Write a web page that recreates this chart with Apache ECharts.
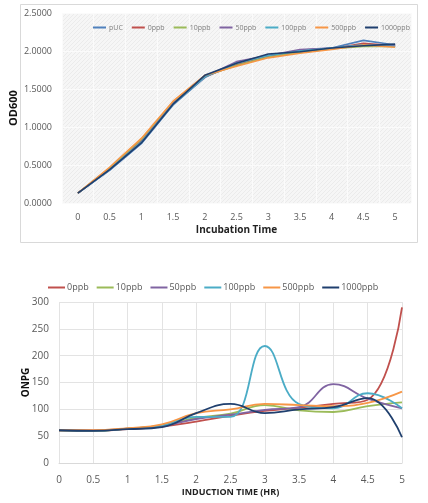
<!DOCTYPE html>
<html><head><meta charset="utf-8">
<script src="https://cdn.jsdelivr.net/npm/echarts@6/dist/echarts.min.js"></script>
<style>html,body{margin:0;padding:0;background:#fff}#c{width:428px;height:503px}</style>
</head><body><div id="c"></div>
<script>
// ---- Top chart data (OD600) ----
const topCategories = ['0','0.5','1','1.5','2','2.5','3','3.5','4','4.5','5'];
const topNames = ['pUC','0ppb','10ppb','50ppb','100ppb','500ppb','1000ppb'];
const od_pUC    = [0.13,0.43,0.78,1.29,1.65,1.85,1.93,2.01,2.04,2.14,2.08];
const od_0ppb   = [0.13,0.45,0.82,1.31,1.66,1.82,1.93,1.99,2.03,2.10,2.07];
const od_10ppb  = [0.13,0.46,0.84,1.33,1.67,1.81,1.92,1.98,2.03,2.06,2.06];
const od_50ppb  = [0.13,0.44,0.80,1.31,1.66,1.86,1.94,2.02,2.04,2.08,2.07];
const od_100ppb = [0.13,0.44,0.80,1.30,1.66,1.84,1.94,2.00,2.04,2.08,2.06];
const od_500ppb = [0.13,0.47,0.85,1.34,1.68,1.80,1.91,1.97,2.02,2.08,2.05];
const od_1000ppb= [0.13,0.44,0.79,1.30,1.68,1.84,1.96,1.99,2.04,2.07,2.09];
const topYTicks = [0,0.5,1,1.5,2,2.5];

// ---- Bottom chart data (ONPG) ----
const bottomTimes = [0,0.5,1,1.5,2,2.5,3,3.5,4,4.5,5];
const bottomNames = ['0ppb','10ppb','50ppb','100ppb','500ppb','1000ppb'];
const onpg_0ppb    = [61,60,63,68,77,88,97,103,110,118,290];
const onpg_10ppb   = [61,60,64,70,84,92,108,98,95,106,113];
const onpg_50ppb   = [61,61,64,69,82,90,99,104,147,120,102];
const onpg_100ppb  = [61,60,64,70,86,86,218,110,102,130,102];
const onpg_500ppb  = [61,61,65,72,93,100,110,108,106,112,133];
const onpg_1000ppb = [61,60,63,67,93,110,93,100,104,121,48];
const bottomYTicks = [0,50,100,150,200,250,300];

const topColors = ['#4F81BD','#C0504D','#9BBB59','#8064A2','#4BACC6','#F79646','#1F3F6E'];
const bottomColors = ['#C0504D','#9BBB59','#8064A2','#4BACC6','#F79646','#1F3F6E'];

// hatch pattern for top plot background
const pc = document.createElement('canvas'); pc.width = 4; pc.height = 4;
const px = pc.getContext('2d');
px.fillStyle = '#f6f6f6'; px.fillRect(0,0,4,4);
px.strokeStyle = '#ebebeb'; px.lineWidth = 1;
px.beginPath(); px.moveTo(0,4); px.lineTo(4,0); px.stroke();

const chart = echarts.init(document.getElementById('c'), null, {renderer:'canvas'});
const topData = [od_pUC,od_0ppb,od_10ppb,od_50ppb,od_100ppb,od_500ppb,od_1000ppb];
const botData = [onpg_0ppb,onpg_10ppb,onpg_50ppb,onpg_100ppb,onpg_500ppb,onpg_1000ppb];

const series = [];
topNames.forEach((n,i)=>series.push({
  name:n, type:'line', xAxisIndex:0, yAxisIndex:0, data:topData[i],
  showSymbol:false, symbol:'none', lineStyle:{width:1.6,color:topColors[i]}, itemStyle:{color:topColors[i]}
}));
bottomNames.forEach((n,i)=>series.push({
  name:n+' ', type:'line', xAxisIndex:1, yAxisIndex:1,
  data:bottomTimes.map((t,k)=>[t,botData[i][k]]), smooth:0.45,
  showSymbol:false, symbol:'none', lineStyle:{width:1.8,color:bottomColors[i]}, itemStyle:{color:bottomColors[i]}
}));

const lab = {color:'#595959', fontSize:9, fontFamily:'Open Sans'};
chart.setOption({
  animation:false,
  backgroundColor:'#fff',
  graphic:[{type:'rect', z:-10, shape:{x:20.5,y:4.5,width:397,height:238},
    style:{fill:'#fff', stroke:'#d9d9d9', lineWidth:1}}],
  legend:[
    {data:topNames, top:19, left:88, itemWidth:13, itemHeight:2, icon:'rect', itemGap:9,
     textStyle:{color:'#7f7f7f', fontSize:7, fontFamily:'Open Sans', padding:[0,0,0,-2]}},
    {data:bottomNames.map(n=>n+' '), top:278, left:43, itemWidth:17, itemHeight:2, icon:'rect', itemGap:8,
     formatter:n=>n.trim(),
     textStyle:{color:'#595959', fontSize:9, fontFamily:'Open Sans', padding:[0,0,0,-3]}}
  ],
  grid:[
    {left:61, right:17, top:13, height:190, show:true, borderWidth:0,
     backgroundColor:{image:pc, repeat:'repeat'}},
    {left:59, right:26, top:302, height:161}
  ],
  xAxis:[
    {type:'category', gridIndex:0, data:topCategories, boundaryGap:true,
     axisLine:{show:false}, axisTick:{show:false},
     axisLabel:Object.assign({margin:10},lab),
     splitLine:{show:true, lineStyle:{color:'#fbfbfb', width:1}},
     name:'Incubation Time', nameLocation:'middle', nameGap:22, nameMoveOverlap:false,
     nameTextStyle:{fontWeight:'bold', fontSize:10, color:'#222', fontFamily:'Open Sans'}},
    {type:'value', gridIndex:1, min:0, max:5, interval:0.5,
     axisLine:{show:true, lineStyle:{color:'#d9d9d9'}}, axisTick:{show:false},
     axisLabel:Object.assign({margin:12, formatter:v=>String(v)},lab, {fontSize:10}),
     splitLine:{show:true, lineStyle:{color:'#e3e3e3'}},
     name:'INDUCTION TIME (HR)', nameLocation:'middle', nameGap:25, nameMoveOverlap:false,
     nameTextStyle:{fontWeight:'bold', fontSize:9, color:'#222', fontFamily:'Open Sans'}}
  ],
  yAxis:[
    {type:'value', gridIndex:0, min:topYTicks[0], max:topYTicks[topYTicks.length-1], interval:0.5,
     axisLine:{show:false}, axisTick:{show:false},
     axisLabel:Object.assign({margin:10, formatter:v=>v.toFixed(4)},lab),
     splitLine:{show:true, lineStyle:{color:'#fbfbfb'}},
     name:'OD600', nameLocation:'middle', nameGap:43, nameRotate:90, nameMoveOverlap:false,
     nameTextStyle:{fontWeight:'bold', fontSize:11, color:'#111', fontFamily:'Open Sans'}},
    {type:'value', gridIndex:1, min:bottomYTicks[0], max:bottomYTicks[bottomYTicks.length-1], interval:50,
     axisLine:{show:false}, axisTick:{show:false},
     axisLabel:Object.assign({margin:10},lab,{fontSize:10}),
     splitLine:{show:true, lineStyle:{color:'#e3e3e3'}},
     name:'ONPG', nameLocation:'middle', nameGap:28, nameRotate:90, nameMoveOverlap:false,
     nameTextStyle:{fontWeight:'bold', fontSize:10, color:'#111', fontFamily:'Open Sans'}}
  ],
  series:series
});
</script></body></html>
